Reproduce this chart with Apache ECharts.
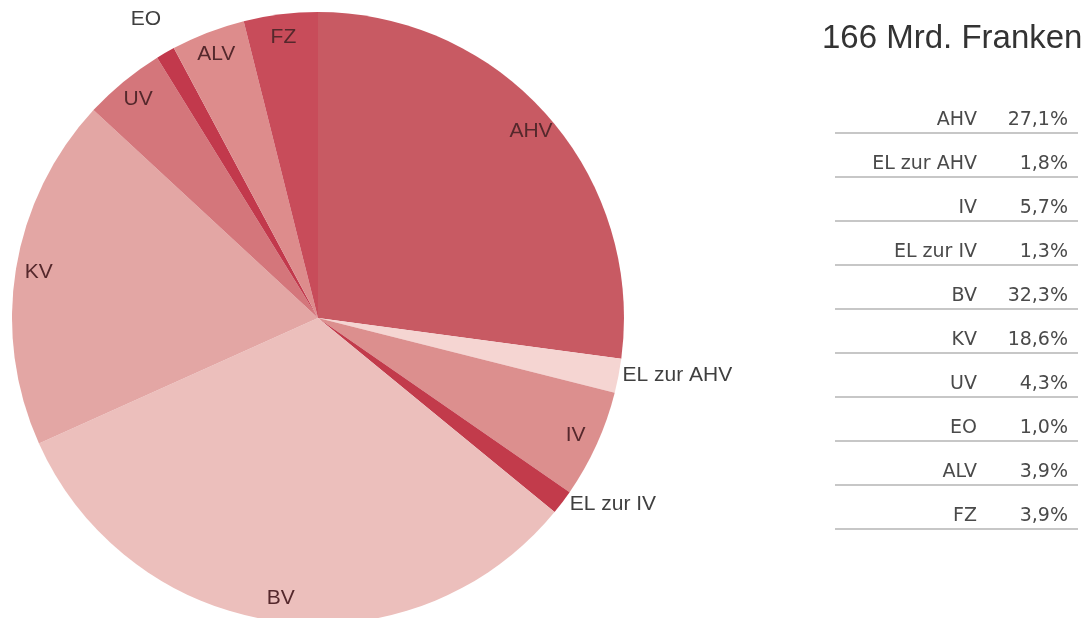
<!DOCTYPE html>
<html>
<head>
<meta charset="utf-8">
<script src="https://cdn.jsdelivr.net/npm/echarts@6/dist/echarts.min.js"></script>
<style>
  html, body { margin: 0; padding: 0; background: #ffffff; }
  #chart { width: 1088px; height: 618px; }
</style>
</head>
<body>
<div id="chart"></div>
<script>
// ---- data ----
const titleText = '166 Mrd. Franken';
const categories = ['AHV', 'EL zur AHV', 'IV', 'EL zur IV', 'BV', 'KV', 'UV', 'EO', 'ALV', 'FZ'];
const shares = [27.1, 1.8, 5.7, 1.3, 32.3, 18.6, 4.3, 1.0, 3.9, 3.9];
const sliceColors = ['#c85a63', '#f5d5d2', '#dc8f8e', '#c23b4b', '#ecbfbc', '#e3a6a4', '#d4767b', '#c2394c', '#dd8c8c', '#c84c5a'];
// labels drawn just outside the pie (others inside)
const outsideLabels = { 'EL zur AHV': { length: 15, length2: 0 }, 'EL zur IV': { length: 19, length2: 0 }, 'EO': { length: 55, length2: -20 } };

const chart = echarts.init(document.getElementById('chart'));

const center = [318, 318];
const pieData = categories.map((c, i) => ({ name: c, value: shares[i], itemStyle: { color: sliceColors[i] } }));

const labelData = categories.map((c, i) => {
  const out = outsideLabels[c];
  const item = { name: c, value: shares[i] };
  if (out) {
    item.label = { position: 'outside', color: '#3f3f3f' };
    item.labelLine = { show: false, length: out.length, length2: out.length2 };
  } else {
    item.label = { position: 'inside', color: '#55282c' };
  }
  return item;
});

const fmt = v => v.toFixed(1).replace('.', ',') + '%';

// table graphics built from data
const graphics = [];
const rowStart = 120, rowStep = 44;
categories.forEach((c, i) => {
  const y = rowStart + rowStep * i;
  graphics.push({
    type: 'text', x: 977, y: y,
    style: { text: c, align: 'right', verticalAlign: 'middle', font: '19px "DejaVu Sans"', fill: '#4a4a4a' }
  });
  graphics.push({
    type: 'text', x: 1068, y: y,
    style: { text: fmt(shares[i]), align: 'right', verticalAlign: 'middle', font: '19px "DejaVu Sans"', fill: '#4a4a4a' }
  });
  graphics.push({
    type: 'line', shape: { x1: 835, y1: y + 13, x2: 1078, y2: y + 13 },
    style: { stroke: '#8f8f8f', lineWidth: 1.2 }
  });
});

chart.setOption({
  animation: false,
  backgroundColor: '#ffffff',
  title: {
    text: titleText, left: 822, top: 22, padding: 0,
    textStyle: { fontFamily: '"Liberation Sans", Arial, sans-serif', fontSize: 33, fontWeight: 'normal', color: '#333333' }
  },
  graphic: graphics,
  series: [
    {
      type: 'pie', center: center, radius: 306, startAngle: 90, clockwise: true,
      silent: true, label: { show: false }, labelLine: { show: false },
      data: pieData, itemStyle: { borderWidth: 0 }
    },
    {
      type: 'pie', center: center, radius: [270, 290], startAngle: 90, clockwise: true,
      silent: true, avoidLabelOverlap: false,
      itemStyle: { color: 'rgba(0,0,0,0)', borderWidth: 0 },
      label: { show: true, formatter: '{b}', fontFamily: '"Liberation Sans", Arial, sans-serif', fontSize: 21 },
      labelLine: { show: false },
      data: labelData
    }
  ]
});
</script>
</body>
</html>
